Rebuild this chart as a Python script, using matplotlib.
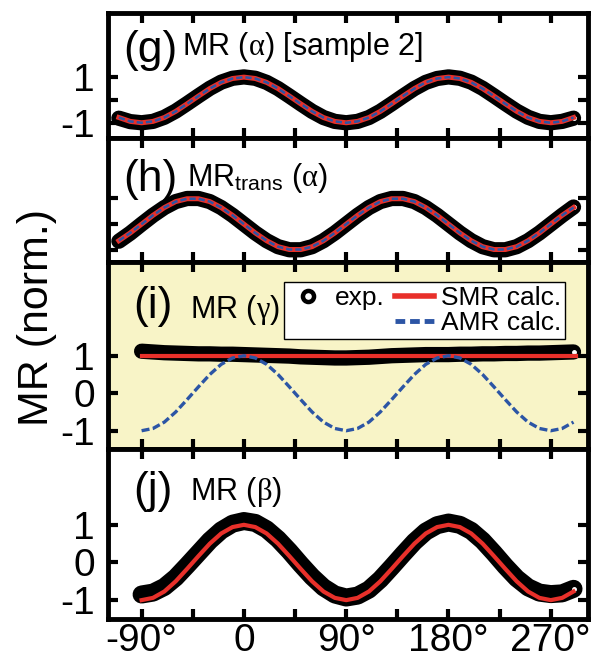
import matplotlib.pyplot as plt
from matplotlib.lines import Line2D

plt.rcParams['font.family'] = ['Liberation Sans', 'DejaVu Sans']
plt.rcParams['mathtext.fontset'] = 'custom'
plt.rcParams['mathtext.rm'] = 'Liberation Sans'
plt.rcParams['mathtext.it'] = 'Liberation Serif'

# angles (deg) for panels g and h
ang_gh = [-110, -100, -90, -80, -70, -60, -50, -40, -30, -20, -10, 0, 10, 20,
          30, 40, 50, 60, 70, 80, 90, 100, 110, 120, 130, 140, 150, 160, 170,
          180, 190, 200, 210, 220, 230, 240, 250, 260, 270, 280, 290]
# angles (deg) for panels i and j
ang_ij = [-90, -80, -70, -60, -50, -40, -30, -20, -10, 0, 10, 20, 30, 40, 50,
          60, 70, 80, 90, 100, 110, 120, 130, 140, 150, 160, 170, 180, 190,
          200, 210, 220, 230, 240, 250, 260, 270, 280, 290]

# (g) MR(alpha) sample 2
g_exp = [-0.80, -0.95, -1.00, -0.94, -0.76, -0.49, -0.16, 0.18, 0.51, 0.78,
         0.95, 1.01, 0.95, 0.77, 0.50, 0.17, -0.17, -0.50, -0.77, -0.94,
         -1.00, -0.94, -0.77, -0.50, -0.17, 0.17, 0.50, 0.77, 0.94, 1.01,
         0.95, 0.78, 0.51, 0.18, -0.16, -0.49, -0.76, -0.94, -1.00, -0.94,
         -0.80]
g_calc = [-0.77, -0.94, -1.00, -0.94, -0.77, -0.50, -0.17, 0.17, 0.50, 0.77,
          0.94, 1.00, 0.94, 0.77, 0.50, 0.17, -0.17, -0.50, -0.77, -0.94,
          -1.00, -0.94, -0.77, -0.50, -0.17, 0.17, 0.50, 0.77, 0.94, 1.00,
          0.94, 0.77, 0.50, 0.17, -0.17, -0.50, -0.77, -0.94, -1.00, -0.94,
          -0.77]

# (h) MR_trans(alpha)
h_exp = [-0.66, -0.35, 0.00, 0.34, 0.64, 0.87, 0.99, 0.99, 0.87, 0.64, 0.34,
         0.00, -0.34, -0.64, -0.87, -0.99, -0.99, -0.87, -0.64, -0.34, 0.00,
         0.34, 0.64, 0.87, 0.99, 0.99, 0.87, 0.64, 0.34, 0.00, -0.34, -0.64,
         -0.87, -0.99, -0.99, -0.87, -0.64, -0.34, 0.00, 0.34, 0.66]
h_calc = [-0.64, -0.34, 0.00, 0.34, 0.64, 0.87, 0.98, 0.98, 0.87, 0.64, 0.34,
          0.00, -0.34, -0.64, -0.87, -0.98, -0.98, -0.87, -0.64, -0.34, 0.00,
          0.34, 0.64, 0.87, 0.98, 0.98, 0.87, 0.64, 0.34, 0.00, -0.34, -0.64,
          -0.87, -0.98, -0.98, -0.87, -0.64, -0.34, 0.00, 0.34, 0.64]

# (i) MR(gamma)
i_exp = [1.12, 1.10, 1.08, 1.07, 1.06, 1.05, 1.05, 1.04, 1.04, 1.03, 1.02,
         1.01, 1.00, 0.99, 0.97, 0.96, 0.95, 0.94, 0.94, 0.95, 0.96, 0.98,
         1.00, 1.01, 1.02, 1.03, 1.03, 1.03, 1.04, 1.04, 1.05, 1.05, 1.06,
         1.06, 1.07, 1.07, 1.08, 1.09, 1.10]
i_smr_ang = [-90, 292]
i_smr = [1.00, 1.00]
i_amr = [-1.00, -0.94, -0.77, -0.50, -0.17, 0.17, 0.50, 0.77, 0.94, 1.00,
         0.94, 0.77, 0.50, 0.17, -0.17, -0.50, -0.77, -0.94, -1.00, -0.94,
         -0.77, -0.50, -0.17, 0.17, 0.50, 0.77, 0.94, 1.00, 0.94, 0.77, 0.50,
         0.17, -0.17, -0.50, -0.77, -0.94, -1.00, -0.94, -0.77]

# (j) MR(beta)
j_exp = [-0.85, -0.80, -0.65, -0.40, -0.08, 0.25, 0.58, 0.85, 1.03, 1.10,
         1.05, 0.88, 0.62, 0.30, -0.05, -0.38, -0.66, -0.85, -0.93, -0.88,
         -0.72, -0.45, -0.12, 0.22, 0.55, 0.82, 0.99, 1.06, 1.00, 0.84, 0.58,
         0.25, -0.10, -0.42, -0.66, -0.80, -0.84, -0.82, -0.70]
j_smr = [-1.00, -0.94, -0.77, -0.50, -0.17, 0.17, 0.50, 0.77, 0.94, 1.00,
         0.94, 0.77, 0.50, 0.17, -0.17, -0.50, -0.77, -0.94, -1.00, -0.94,
         -0.77, -0.50, -0.17, 0.17, 0.50, 0.77, 0.94, 1.00, 0.94, 0.77, 0.50,
         0.17, -0.17, -0.50, -0.77, -0.94, -1.00, -0.94, -0.77]

xtick_major = [-90, 0, 90, 180, 270]
xtick_minor = [-45, 45, 135, 225]
xtick_labels = ['-90°', '0', '90°', '180°', '270°']

red = '#e8302a'
blue = '#2c55a5'
yellow = '#f8f4c7'

fig = plt.figure(figsize=(6.04, 6.62), dpi=100)
gs = fig.add_gridspec(4, 1, height_ratios=[124, 124, 187, 169], hspace=0,
                      left=0.178, right=0.974, top=0.980, bottom=0.065)
axes = [fig.add_subplot(gs[k]) for k in range(4)]


def style(ax, ylim, ylabels, bottom=False):
    ax.set_xlim(-120, 303)
    ax.set_ylim(*ylim)
    ax.set_xticks(xtick_major)
    ax.set_xticks(xtick_minor, minor=True)
    ax.set_yticks([-1, 0, 1])
    ax.set_yticklabels(ylabels)
    ax.tick_params(which='both', direction='in', top=True, right=True,
                   length=7, width=3, labelsize=28)
    ax.tick_params(axis='y', pad=9)
    ax.tick_params(axis='x', pad=3)
    if bottom:
        ax.set_xticklabels(xtick_labels)
    else:
        ax.tick_params(axis='x', labelbottom=False)
    for s in ax.spines.values():
        s.set_linewidth(3.5)


def exp_band(ax, x, y, lw):
    ax.plot(x, y, color='black', lw=lw, solid_capstyle='round',
            solid_joinstyle='round', zorder=2)
    ax.plot(x[-1:], y[-1:], ls='none', marker='o', ms=2.5, mfc='white',
            mec='white', zorder=2.5)


# (g)
ax = axes[0]
exp_band(ax, ang_gh, g_exp, 11)
ax.plot(ang_gh, g_calc, color=red, lw=3.6, zorder=3)
ax.plot(ang_gh, g_calc, color=blue, lw=1.8, dashes=(2.5, 1.2), zorder=4)
style(ax, (-1.65, 3.8), ['-1', '', '1'])
ax.text(0.032, 0.605, '(g)', transform=ax.transAxes, fontsize=32, va='baseline')
ax.text(0.155, 0.661, r'MR ($\alpha$) [sample 2]', transform=ax.transAxes,
        fontsize=22, va='baseline')

# (h)
ax = axes[1]
exp_band(ax, ang_gh, h_exp, 11)
ax.plot(ang_gh, h_calc, color=red, lw=3.6, zorder=3)
ax.plot(ang_gh, h_calc, color=blue, lw=1.8, dashes=(2.5, 1.2), zorder=4)
style(ax, (-1.46, 3.34), ['', '', ''])
ax.text(0.032, 0.573, '(h)', transform=ax.transAxes, fontsize=32, va='baseline')
ax.text(0.165, 0.613, r'MR$_{\mathrm{trans}}$ ($\alpha$)', transform=ax.transAxes,
        fontsize=22, va='baseline')

# (i)
ax = axes[2]
ax.set_facecolor(yellow)
exp_band(ax, ang_ij, i_exp, 11)
ax.plot(i_smr_ang, i_smr, color=red, lw=3, zorder=3)
ax.plot(ang_ij, i_amr, color=blue, lw=2.4, dashes=(2.4, 1.0), zorder=4)
style(ax, (-1.5, 3.5), ['-1', '0', '1'])
ax.text(0.053, 0.70, '(i)', transform=ax.transAxes, fontsize=32, va='baseline')
ax.text(0.172, 0.70, r'MR ($\gamma$)', transform=ax.transAxes,
        fontsize=22, va='baseline')
leg_exp = Line2D([], [], ls='none', marker='o', ms=8, mfc='white', mec='black', mew=3.2)
leg_blank = Line2D([], [], ls='none')
leg_smr = Line2D([], [], color=red, lw=4)
leg_amr = Line2D([], [], color=blue, lw=3.5, dashes=(2, 1))
leg = ax.legend([leg_exp, leg_blank, leg_smr, leg_amr],
                ['exp.', '', 'SMR calc.', 'AMR calc.'], ncol=2,
                loc='upper right', bbox_to_anchor=(0.952, 0.893),
                borderaxespad=0, fontsize=19, frameon=True, fancybox=False,
                edgecolor='black', framealpha=1, handlelength=1.5,
                handletextpad=0.25, columnspacing=0.4, labelspacing=0.05,
                borderpad=0.15)
leg.get_frame().set_linewidth(1)

# (j)
ax = axes[3]
exp_band(ax, ang_ij, j_exp, 13)
ax.plot(ang_ij, j_smr, color=red, lw=3, zorder=3)
style(ax, (-1.5, 3.0), ['-1', '0', '1'], bottom=True)
ax.text(0.053, 0.686, '(j)', transform=ax.transAxes, fontsize=32, va='baseline')
ax.text(0.172, 0.704, r'MR ($\beta$)', transform=ax.transAxes,
        fontsize=22, va='baseline')

fig.text(0.062, 0.521, 'MR (norm.)', rotation=90, fontsize=31,
         ha='center', va='center')

fig.savefig('out.png', dpi=100)
